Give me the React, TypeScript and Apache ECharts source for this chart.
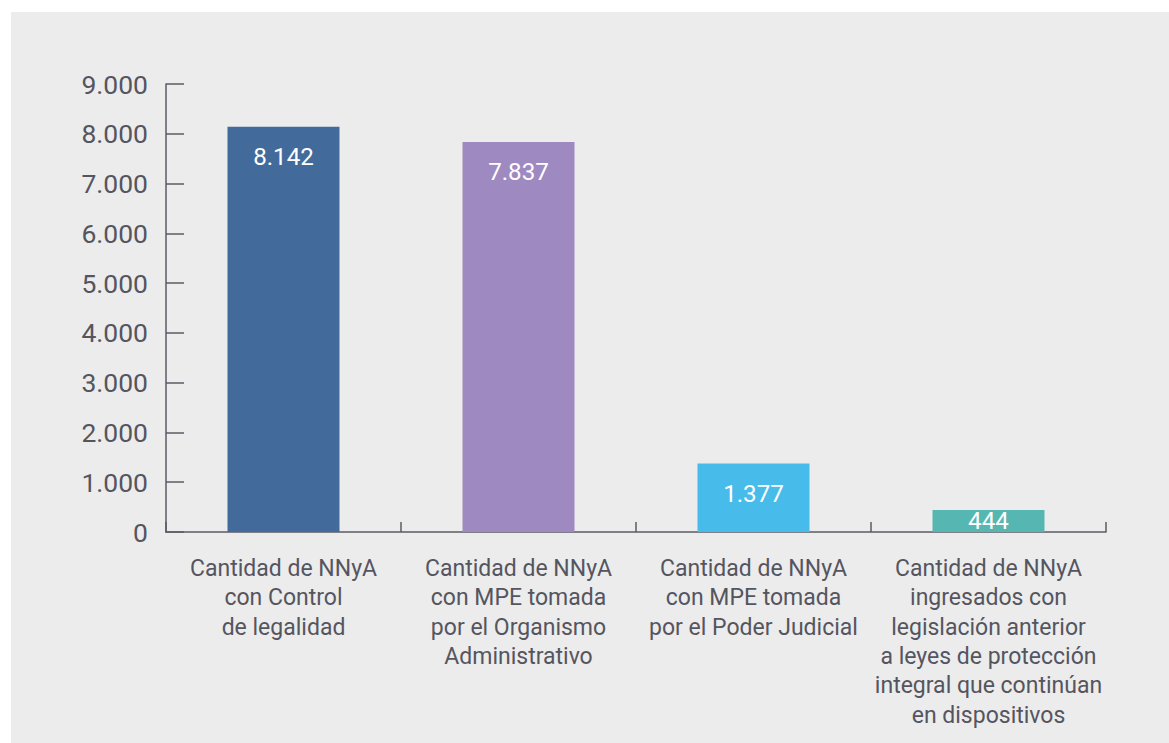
import React, { useEffect, useRef } from "react";
import * as echarts from "echarts";

const categories: string[] = [
  "Cantidad de NNyA\ncon Control\nde legalidad",
  "Cantidad de NNyA\ncon MPE tomada\npor el Organismo\nAdministrativo",
  "Cantidad de NNyA\ncon MPE tomada\npor el Poder Judicial",
  "Cantidad de NNyA\ningresados con\nlegislación anterior\na leyes de protección\nintegral que continúan\nen dispositivos",
];
const values: number[] = [8142, 7837, 1377, 444];
const barColors: string[] = ["#426b9b", "#9e89c1", "#47bbea", "#56b7b2"];
const yTicks: number[] = [0, 1000, 2000, 3000, 4000, 5000, 6000, 7000, 8000, 9000];

const fmt = (v: number) => v.toString().replace(/\B(?=(\d{3})+(?!\d))/g, ".");

const TEXT = "#55555f";
const AXIS = "#5b5b66";
const FONT = "Roboto, 'Noto Sans', sans-serif";

export default function App() {
  const ref = useRef<HTMLDivElement>(null);
  useEffect(() => {
    if (!ref.current) return;
    const chart = echarts.init(ref.current, null, { renderer: "svg" });
    chart.setOption({
      animation: false,
      textStyle: { fontFamily: FONT },
      graphic: [
        {
          type: "rect",
          left: 11,
          top: 12,
          z: -10,
          shape: { width: 1158, height: 731 },
          style: { fill: "#ececec" },
        },
      ],
      grid: { left: 166, right: 63, top: 84, bottom: 211, containLabel: false },
      xAxis: {
        type: "category",
        data: categories,
        axisLine: { lineStyle: { color: AXIS, width: 1.5 } },
        axisTick: { show: true, inside: true, length: 10, lineStyle: { color: AXIS, width: 1.5 } },
        axisLabel: {
          color: TEXT,
          fontSize: 23,
          lineHeight: 29.3,
          margin: 22,
          fontFamily: FONT,
          interval: 0,
        },
      },
      yAxis: {
        type: "value",
        min: yTicks[0],
        max: yTicks[yTicks.length - 1],
        interval: 1000,
        splitLine: { show: false },
        axisLine: { show: true, lineStyle: { color: AXIS, width: 1.5 } },
        axisTick: { show: true, inside: true, length: 18, lineStyle: { color: AXIS, width: 1.5 } },
        axisLabel: {
          color: TEXT,
          fontSize: 26.5,
          margin: 18,
          fontFamily: FONT,
          formatter: (v: number) => fmt(v),
        },
      },
      series: [
        {
          type: "bar",
          barWidth: 112,
          data: values.map((v, i) => ({
            value: v,
            itemStyle: { color: barColors[i] },
            label: {
              show: true,
              position: v < 1000 ? "inside" : "insideTop",
              distance: 18.5,
              color: "#ffffff",
              fontSize: 24.2,
              fontFamily: FONT,
              formatter: () => fmt(v),
            },
          })),
        },
      ],
    });
    return () => chart.dispose();
  }, []);
  return (
    <div
      ref={ref}
      style={{ position: "absolute", left: 0, top: 0, width: 1169, height: 743, background: "#ffffff" }}
    />
  );
}
